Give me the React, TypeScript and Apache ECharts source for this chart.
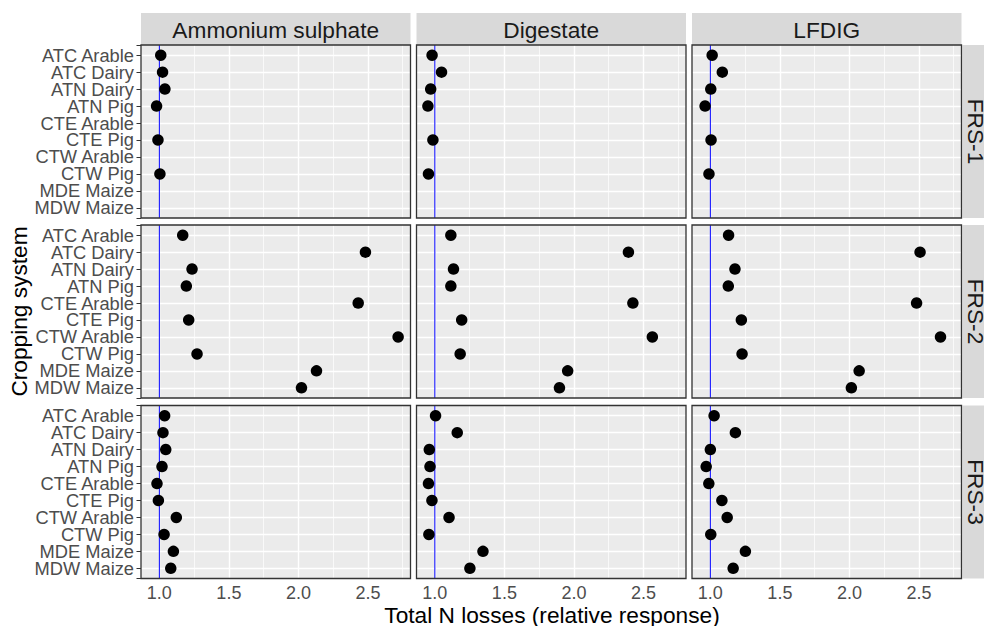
import React, { useEffect, useRef } from 'react';
import * as echarts from 'echarts';

const systems = ['ATC Arable', 'ATC Dairy', 'ATN Dairy', 'ATN Pig', 'CTE Arable', 'CTE Pig', 'CTW Arable', 'CTW Pig', 'MDE Maize', 'MDW Maize'];
const fertilisers = ['Ammonium sulphate', 'Digestate', 'LFDIG'];
const scenarios = ['FRS-1', 'FRS-2', 'FRS-3'];
const xTickValues = [1.0, 1.5, 2.0, 2.5];
const xMinorValues = [1.25, 1.75, 2.25, 2.75];
const referenceLevel = 1.0;

// values in systems order; null = no data
const frs1AS = [1.01, 1.023, 1.04, 0.98, null, 0.99, null, 1.004, null, null];
const frs1DIG = [0.98, 1.048, 0.97, 0.95, null, 0.986, null, 0.954, null, null];
const frs1LF = [1.013, 1.086, 1.003, 0.962, null, 1.005, null, 0.99, null, null];
const frs2AS = [1.168, 2.482, 1.235, 1.194, 2.43, 1.211, 2.717, 1.271, 2.13, 2.022];
const frs2DIG = [1.115, 2.392, 1.134, 1.115, 2.424, 1.193, 2.564, 1.182, 1.955, 1.896];
const frs2LF = [1.131, 2.508, 1.177, 1.129, 2.483, 1.223, 2.655, 1.228, 2.07, 2.014];
const frs3AS = [1.038, 1.026, 1.046, 1.019, 0.983, 0.993, 1.122, 1.034, 1.101, 1.082];
const frs3DIG = [1.005, 1.161, 0.96, 0.965, 0.954, 0.979, 1.102, 0.957, 1.346, 1.252];
const frs3LF = [1.027, 1.18, 1.0, 0.97, 0.989, 1.083, 1.121, 1.003, 1.252, 1.164];

const panelValues = [
  [frs1AS, frs1DIG, frs1LF],
  [frs2AS, frs2DIG, frs2LF],
  [frs3AS, frs3DIG, frs3LF],
];

const X_MIN = 0.868;
const X_MAX = 2.806;
const Y_MIN = -0.6;
const Y_MAX = 9.6;
const FONT = 'Liberation Sans, Arial, sans-serif';

const colLeft = [141, 416.5, 692];
const rowTop = [45, 225, 405.5];
const PW = 269.5;
const PH = 173;

export default function App() {
  const ref = useRef<HTMLDivElement>(null);

  useEffect(() => {
    document.body.style.margin = '0';
    const chart = echarts.init(ref.current!, null, { renderer: 'svg' });

    const grids: any[] = [];
    const xAxes: any[] = [];
    const yAxes: any[] = [];
    const series: any[] = [];
    const graphics: any[] = [];
    const idx = systems.map((_, i) => i);
    // padded with the axis ends so that ECharts' min/max label culling drops only these empty ends
    const yLabelValues = [Y_MIN, ...idx, Y_MAX];

    for (let r = 0; r < 3; r++) {
      for (let c = 0; c < 3; c++) {
        const k = r * 3 + c;
        grids.push({
          left: colLeft[c], top: rowTop[r], width: PW, height: PH,
          show: true, backgroundColor: '#EBEBEB', borderWidth: 0, containLabel: false,
        });
        const bottom = r === 2;
        const left = c === 0;
        xAxes.push({
          type: 'value', gridIndex: k, min: X_MIN, max: X_MAX,
          axisLine: { show: false }, splitLine: { show: false },
          axisTick: { show: bottom, customValues: xTickValues, length: 4, lineStyle: { color: '#333333', width: 1 } },
          axisLabel: {
            show: bottom, customValues: xTickValues, formatter: (v: number) => v.toFixed(1),
            hideOverlap: false,
            color: '#4D4D4D', fontSize: 18, fontFamily: FONT, margin: 5,
          },
        });
        yAxes.push({
          type: 'value', gridIndex: k, min: Y_MIN, max: Y_MAX, inverse: true,
          axisLine: { show: false }, splitLine: { show: false },
          axisTick: { show: left, customValues: yLabelValues, length: 4.5, lineStyle: { color: '#333333', width: 1 } },
          axisLabel: {
            show: left, customValues: yLabelValues,
            formatter: (v: number) => (Number.isInteger(v) ? systems[v] ?? '' : ''),
            hideOverlap: false,
            color: '#4D4D4D', fontSize: 18.3, fontFamily: FONT, margin: 7,
          },
        });
        const gridLineData: any[] = [
          ...xMinorValues.map((v) => ({ xAxis: v, lineStyle: { color: '#FFFFFF', width: 0.7, type: 'solid' } })),
          ...xTickValues.map((v) => ({ xAxis: v, lineStyle: { color: '#FFFFFF', width: 1.4, type: 'solid' } })),
          ...idx.map((v) => ({ yAxis: v, lineStyle: { color: '#FFFFFF', width: 1.4, type: 'solid' } })),
        ];
        series.push({
          type: 'line', xAxisIndex: k, yAxisIndex: k, data: [], silent: true, z: 1,
          markLine: {
            silent: true, symbol: ['none', 'none'], z: 1, animation: false,
            label: { show: false }, emphasis: { disabled: true },
            data: gridLineData,
          },
        });
        series.push({
          type: 'line', xAxisIndex: k, yAxisIndex: k, z: 2, silent: true,
          data: [[referenceLevel, Y_MIN], [referenceLevel, Y_MAX]],
          showSymbol: false, symbol: 'none',
          color: '#0000FF',
          lineStyle: { color: '#0000FF', width: 1, type: 'solid' },
          emphasis: { disabled: true },
        });
        const vals = panelValues[r][c];
        const pts: any[] = [];
        vals.forEach((v, i) => { if (v !== null) pts.push([v, i]); });
        series.push({
          type: 'scatter', xAxisIndex: k, yAxisIndex: k, data: pts, z: 3,
          symbol: 'circle', symbolSize: 11.5, itemStyle: { color: '#000000', opacity: 1 },
          silent: true,
        });
        graphics.push({
          type: 'rect', z: 100, silent: true,
          shape: { x: colLeft[c], y: rowTop[r], width: PW, height: PH },
          style: { fill: 'none', stroke: '#333333', lineWidth: 1.3 },
        });
      }
    }

    // top strips
    for (let c = 0; c < 3; c++) {
      graphics.push({
        type: 'rect', z: 50, silent: true,
        shape: { x: colLeft[c], y: 13, width: PW, height: 32 },
        style: { fill: '#D9D9D9' },
      });
      graphics.push({
        type: 'text', z: 60, silent: true,
        x: colLeft[c] + PW / 2, y: 29.5,
        style: { text: fertilisers[c], fill: '#1A1A1A', fontSize: 22.7, fontFamily: FONT, align: 'center', verticalAlign: 'middle' },
      });
    }
    // right strips
    for (let r = 0; r < 3; r++) {
      graphics.push({
        type: 'rect', z: 50, silent: true,
        shape: { x: 962.5, y: rowTop[r], width: 32, height: PH },
        style: { fill: '#D9D9D9' },
      });
      graphics.push({
        type: 'text', z: 60, silent: true,
        x: 976, y: rowTop[r] + PH / 2, rotation: -Math.PI / 2,
        style: { text: scenarios[r], fill: '#1A1A1A', fontSize: 22.7, fontFamily: FONT, align: 'center', verticalAlign: 'middle' },
      });
    }
    // axis titles
    graphics.push({
      type: 'text', z: 60, silent: true,
      x: 552, y: 615,
      style: { text: 'Total N losses (relative response)', fill: '#000000', fontSize: 22.7, fontFamily: FONT, align: 'center', verticalAlign: 'middle' },
    });
    graphics.push({
      type: 'text', z: 60, silent: true,
      x: 19, y: 311.5, rotation: Math.PI / 2,
      style: { text: 'Cropping system', fill: '#000000', fontSize: 22.7, fontFamily: FONT, align: 'center', verticalAlign: 'middle' },
    });

    chart.setOption({
      animation: false,
      backgroundColor: '#FFFFFF',
      grid: grids,
      xAxis: xAxes,
      yAxis: yAxes,
      series,
      graphic: graphics,
    });

    return () => chart.dispose();
  }, []);

  return <div ref={ref} style={{ position: 'absolute', left: 0, top: 0, width: 984, height: 626 }} />;
}
